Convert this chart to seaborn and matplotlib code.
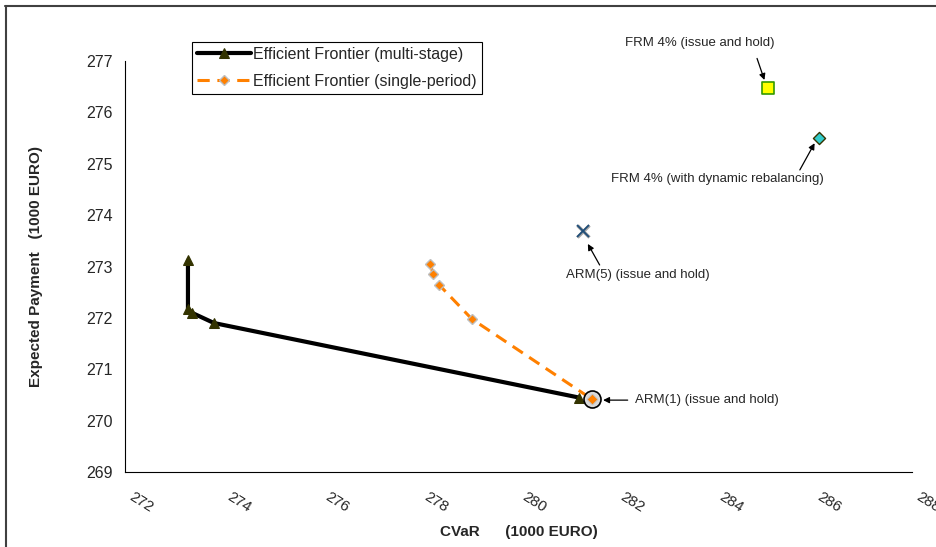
import matplotlib
matplotlib.use("Agg")
import matplotlib.pyplot as plt
import matplotlib.transforms as mtransforms
from matplotlib.lines import Line2D
import seaborn as sns
import pandas as pd

# Efficient frontier, multi-stage model
multi_cvar = [273.28, 273.28, 273.36, 273.81, 281.23]
multi_payment = [273.12, 272.17, 272.10, 271.90, 270.45]

# Efficient frontier, single-period model
single_cvar = [278.21, 278.26, 278.39, 279.05, 281.49]
single_payment = [273.05, 272.86, 272.64, 271.98, 270.42]

# Individual mortgage strategies
arm1_cvar, arm1_payment = 281.49, 270.42
arm5_cvar, arm5_payment = 281.31, 273.70
frm_hold_cvar, frm_hold_payment = 285.07, 276.48
frm_dyn_cvar, frm_dyn_payment = 286.11, 275.51

x_ticks = [272, 274, 276, 278, 280, 282, 284, 286, 288]
y_ticks = [269, 270, 271, 272, 273, 274, 275, 276, 277]

sns.set_style("white")
plt.rcParams["font.family"] = ["Liberation Sans", "DejaVu Sans"]

fig = plt.figure(figsize=(9.37, 5.47), dpi=100)
ax = fig.add_axes([0.1334, 0.137, 0.8399, 0.7515])

df_multi = pd.DataFrame({"cvar": multi_cvar, "pay": multi_payment})
df_single = pd.DataFrame({"cvar": single_cvar, "pay": single_payment})

sns.lineplot(data=df_single, x="cvar", y="pay", sort=False, estimator=None, ax=ax,
             color="#FF8000", linewidth=2.2, linestyle=(0, (4, 2.5)),
             marker="D", markersize=5.5, markerfacecolor="#FF8000",
             markeredgecolor="#BFBFBF", markeredgewidth=1.0,
             label="Efficient Frontier (single-period)", zorder=3)
sns.lineplot(data=df_multi, x="cvar", y="pay", sort=False, estimator=None, ax=ax,
             color="black", linewidth=3, marker="^", markersize=6.5,
             markerfacecolor="#333300", markeredgecolor="#333300",
             label="Efficient Frontier (multi-stage)", zorder=4)

# ARM(1): circled endpoint shared by both frontiers
ax.scatter([arm1_cvar], [arm1_payment], s=150, facecolor="#D9D9D9",
           edgecolor="black", linewidth=1.2, zorder=5)
ax.scatter([arm1_cvar], [arm1_payment], s=30, marker="D", facecolor="#FF8000",
           edgecolor="#BFBFBF", linewidth=0.6, zorder=6)

ax.plot([arm5_cvar], [arm5_payment], marker="x", markersize=8,
        markeredgewidth=2.4, color="#A6A6A6", zorder=5)
ax.plot([arm5_cvar], [arm5_payment], marker="x", markersize=8,
        markeredgewidth=1.3, color="#1F4E79", zorder=6)
sns.scatterplot(x=[frm_hold_cvar], y=[frm_hold_payment], marker="s", s=75,
                color="#FFFF00", edgecolor="#339900", linewidth=1.2, ax=ax, zorder=5)
sns.scatterplot(x=[frm_dyn_cvar], y=[frm_dyn_payment], marker="D", s=38,
                color="#33CCCC", edgecolor="#333300", linewidth=1.0, ax=ax, zorder=5)

ann = dict(fontsize=9.5, color="black",
           arrowprops=dict(arrowstyle="-|>", color="black", lw=0.9,
                           mutation_scale=9, shrinkA=0, shrinkB=0))
ax.annotate("", xy=(285.0, 276.63), xytext=(284.85, 277.05), **ann)
ax.text(283.69, 277.35, "FRM 4% (issue and hold)", ha="center", va="center", fontsize=9.5)
ax.annotate("", xy=(286.02, 275.40), xytext=(285.72, 274.88), **ann)
ax.text(284.05, 274.70, "FRM 4% (with dynamic rebalancing)", ha="center", va="center", fontsize=9.5)
ax.annotate("", xy=(281.41, 273.44), xytext=(281.65, 273.03), **ann)
ax.text(282.43, 272.83, "ARM(5) (issue and hold)", ha="center", va="center", fontsize=9.5)
ax.annotate("", xy=(281.72, 270.40), xytext=(282.22, 270.40), **ann)
ax.text(282.37, 270.40, "ARM(1) (issue and hold)", ha="left", va="center", fontsize=9.5)

ax.set_xlim(272, 288)
ax.set_ylim(269, 277)
ax.set_xticks(x_ticks)
ax.set_yticks(y_ticks)
ax.set_xticklabels([str(t) for t in x_ticks], rotation=-32, ha="left", va="center",
                   rotation_mode="anchor", fontsize=11)
ax.set_yticklabels([str(t) for t in y_ticks], fontsize=11.5)
ax.tick_params(axis="both", direction="out", length=5, width=0.8, color="black", pad=4)
ax.tick_params(axis="x", pad=12)
shift = mtransforms.ScaledTranslation(5 / 100, 0, fig.dpi_scale_trans)
for lbl in ax.get_xticklabels():
    lbl.set_transform(lbl.get_transform() + shift)
for s in ("top", "right"):
    ax.spines[s].set_visible(False)
for s in ("left", "bottom"):
    ax.spines[s].set_color("black")
    ax.spines[s].set_linewidth(0.8)

ax.set_xlabel("CVaR      (1000 EURO)", fontsize=11, fontweight="bold", labelpad=7)
ax.set_ylabel("Expected Payment   (1000 EURO)", fontsize=11, fontweight="bold", labelpad=31)

handles, labels = ax.get_legend_handles_labels()
order = [labels.index("Efficient Frontier (multi-stage)"),
         labels.index("Efficient Frontier (single-period)")]
leg = ax.legend([handles[i] for i in order], [labels[i] for i in order],
                loc="upper left", bbox_to_anchor=(0.085, 1.046), borderaxespad=0,
                fontsize=11.5, frameon=True, fancybox=False, edgecolor="black",
                framealpha=1, handlelength=3.4, handletextpad=0.15,
                borderpad=0.3, labelspacing=0.75)
leg.get_frame().set_linewidth(0.8)

# Outer chart frame (top and left edges)
fig.add_artist(Line2D([5.5 / 937, 1.0], [1 - 5.5 / 547, 1 - 5.5 / 547],
                      transform=fig.transFigure, color="#404040", linewidth=1.5))
fig.add_artist(Line2D([6 / 937, 6 / 937], [0.0, 1 - 5.5 / 547],
                      transform=fig.transFigure, color="#404040", linewidth=1.5))

fig.savefig("out.png", dpi=100)
